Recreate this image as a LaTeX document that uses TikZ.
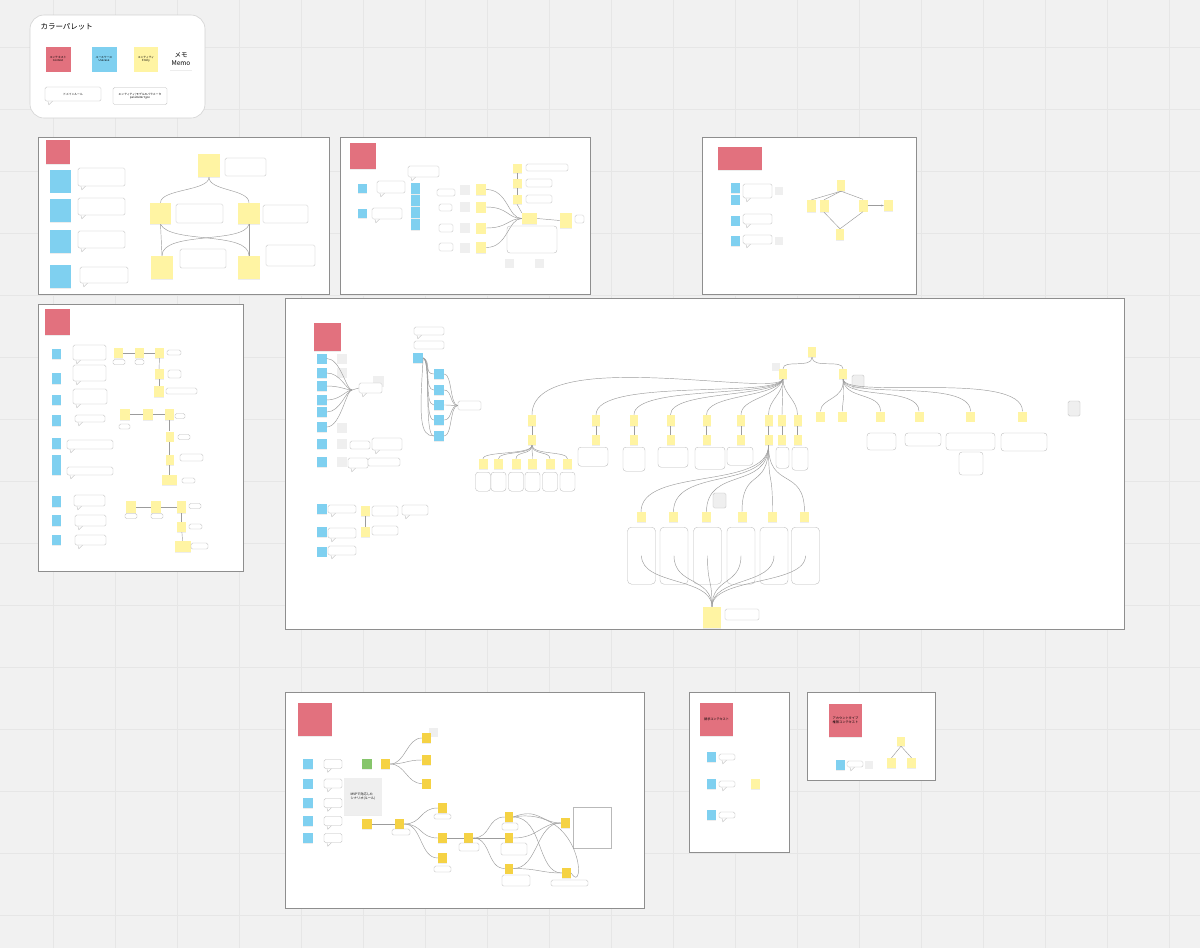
\documentclass[tikz,border=0pt]{standalone}
\usepackage{fontspec}
\setmainfont{Noto Sans CJK JP}
\usetikzlibrary{shadows,arrows.meta}
\definecolor{bgcol}{HTML}{F1F1F1}
\definecolor{gridcol}{HTML}{E6E6E6}
\definecolor{framecol}{HTML}{8E8E8E}
\definecolor{ctxpink}{HTML}{E2717E}
\definecolor{ucblue}{HTML}{7FD0F0}
\definecolor{entyel}{HTML}{FFF4A3}
\definecolor{aggyel}{HTML}{F5D244}
\definecolor{evgreen}{HTML}{86C56B}
\definecolor{memogrey}{HTML}{EFEFEF}
\definecolor{wirecol}{HTML}{9C9C9C}
\tikzset{
  sticky/.style n args={2}{inner sep=0pt,minimum width=#1,minimum height=#2,
    drop shadow={shadow xshift=0.2pt,shadow yshift=-0.7pt,opacity=0.14}},
  ctx/.style n args={2}{sticky={#1}{#2},fill=ctxpink},
  uc/.style n args={2}{sticky={#1}{#2},fill=ucblue},
  ent/.style n args={2}{sticky={#1}{#2},fill=entyel},
  agg/.style n args={2}{sticky={#1}{#2},fill=aggyel},
  faint/.style={fill=memogrey,inner sep=0pt,minimum size=#1},
  box/.style n args={2}{draw=gray!55,line width=0.35pt,rounded corners=1.5pt,fill=white,
    inner sep=0pt,minimum width=#1,minimum height=#2},
  bubble/.style n args={2}{box={#1}{#2},
    append after command={\pgfextra{
      \path[fill=white,draw=gray!55,line width=0.35pt,rounded corners=0pt]
        ([xshift=3pt,yshift=0.3pt]\tikzlastnode.south west)
        -- ([xshift=4pt,yshift=-3.5pt]\tikzlastnode.south west)
        -- ([xshift=8pt,yshift=0.3pt]\tikzlastnode.south west);}}},
  wire/.style={draw=wirecol,line width=0.45pt},
  board/.style={draw=framecol,line width=1pt,fill=white},
  wee/.style={font=\fontsize{2.8}{3.3}\selectfont,align=center},
}
\begin{document}
\begin{tikzpicture}[x=1pt,y=-1pt]
  \useasboundingbox (0,0) rectangle (1200,948);
  \fill[bgcol] (0,0) rectangle (1200,948); %sfondo
  \foreach \g in {0,...,19} \draw[gridcol,line width=0.6pt] ({\g*62+53},0) -- ({\g*62+53},948);
  \foreach \g in {0,...,15} \draw[gridcol,line width=0.6pt] (0,{\g*62+47}) -- (1200,{\g*62+47});

  % palette
  \draw[board,draw=gray!35,line width=0.6pt,rounded corners=14pt] (30,15) rectangle (205,118);
  \node[anchor=west,font=\fontsize{7.5}{9}\selectfont] (paltitle) at (37,27) {カラーパレット};
  \node[ctx={25}{25},wee] (palctx) at (58,59) {コンテキスト\\Context};
  \node[uc={25}{25},wee] (paluc) at (104,59) {ユースケース\\Usecase};
  \node[ent={24}{25},wee] (palent) at (146,59) {エンティティ\\Entity};
  \node[sticky={22}{22},fill=white,font=\fontsize{6.5}{7.5}\selectfont,align=center] (palmemo) at (181,59) {メモ\\Memo};
  \node[bubble={56}{14},wee] (palrule) at (73,94) {ドメインルール};
  \node[box={54}{17},wee] (palparam) at (140,96) {エンティティ/モデルのパラメータ\\parameter type};

  % board A
  \draw[board] (38,137) rectangle (329,294);
  \node[ctx={24}{24}] (actx) at (58,152) {};
  \foreach \i/\y in {1/181,2/210.5,3/241.5,4/276.5} \node[uc={21}{23}] (auc\i) at (60.5,\y) {};
  \node[bubble={47}{18}] (anote1) at (101.5,177) {};
  \node[bubble={47}{17}] (anote2) at (101.5,206.5) {};
  \node[bubble={47}{17}] (anote3) at (101.5,239.5) {};
  \node[bubble={48}{16}] (anote4) at (104,275) {};
  \node[ent={22}{23}] (atop) at (209,165.5) {};
  \node[box={41}{18}] (atopn) at (245.5,167) {};
  \node[ent={21}{21}] (amidl) at (160.5,213.5) {};
  \node[ent={22}{21}] (amidr) at (249,213.5) {};
  \node[box={47}{19}] (amidln) at (199.5,213.5) {};
  \node[box={45}{18}] (amidrn) at (285.5,214) {};
  \node[ent={22}{23}] (abotl) at (162,267.5) {};
  \node[ent={22}{23}] (abotr) at (249,267.5) {};
  \node[box={46}{19}] (abotln) at (203,258.5) {};
  \node[box={49}{21}] (abotrn) at (290.5,255.5) {};
  \draw[wire] (atop.south) .. controls +(0,14) and +(0,-14) .. (amidl.north);
  \draw[wire] (atop.south) .. controls +(0,14) and +(0,-14) .. (amidr.north);
  \draw[wire] (amidl.south) -- (abotl.north);
  \draw[wire] (amidr.south) -- (abotr.north);
  \draw[wire] (amidl.south) .. controls +(10,20) and +(0,-25) .. (abotr.north);
  \draw[wire] (amidr.south) .. controls +(-5,20) and +(0,-25) .. (abotl.north);

  % board B
  \draw[board] (340,137) rectangle (590,294);
  \node[ctx={26}{26}] (bctx) at (362.5,156) {};
  \node[uc={9}{9}] (buc1) at (362.5,188.5) {};
  \node[uc={9}{9}] (buc2) at (362.5,213.5) {};
  \node[bubble={28}{12}] (bnote1) at (391,187) {};
  \node[bubble={30}{11}] (bnote2) at (387,213.5) {};
  \node[bubble={31}{11}] (bnote3) at (423.5,171.5) {};
  \foreach \i/\y in {1/188.5,2/200.5,3/212.5,4/224.5} \node[uc={9}{11}] (bcol\i) at (415,\y) {};
  \node[box={18}{7}] (bbox1) at (446,192.5) {};
  \node[box={13}{7}] (bbox2) at (445.5,207.5) {};
  \node[box={14}{8}] (bbox3) at (446,228) {};
  \node[box={14}{8}] (bbox4) at (446,247) {};
  \foreach \i/\y in {1/189.5,2/207,3/228,4/247.5} {
    \node[faint=10] (bfa\i) at (465,\y) {};
    \node[ent={10}{11}] (bye\i) at (481,\y) {};
  }
  \node[ent={15}{11}] (bcen) at (529.5,218.5) {};
  \node[ent={12}{15}] (bright) at (566,220.5) {};
  \node[box={9}{8}] (brightn) at (579.5,219) {};
  \foreach \i/\y in {1/168.5,2/183.5,3/199.5} \node[ent={9}{9}] (bup\i) at (517,\y) {};
  \node[box={42}{7}] (bupn1) at (547,167.5) {};
  \node[box={26}{8}] (bupn2) at (539,183) {};
  \node[box={26}{8}] (bupn3) at (539,199) {};
  \node[box={50}{27},rounded corners=3pt] (bbig) at (532,239.5) {};
  \node[faint=9] (bfb1) at (509,263.5) {};
  \node[faint=9] (bfb2) at (539.5,263.5) {};
  \foreach \i in {1,...,4} \draw[wire] (bye\i.east) .. controls +(22,0) and +(-14,0) .. (bcen.west);
  \draw[wire] (bup1.south) -- (bup2.north);
  \draw[wire] (bup2.south) -- (bup3.north);
  \draw[wire] (bup3.south) -- (bcen.north west);
  \draw[wire] (bcen.east) -- (bright.west);

  % board C
  \draw[board] (702,137) rectangle (916,294);
  \node[ctx={44}{23}] (cctx) at (740,158.5) {};
  \foreach \i/\y in {1/188,2/199.5,3/220.5,4/241} \node[uc={9}{10}] (cuc\i) at (735.5,\y) {};
  \node[bubble={29}{14}] (cnote1) at (757.5,191) {};
  \node[bubble={29}{10}] (cnote2) at (757.5,219) {};
  \node[bubble={29}{9}] (cnote3) at (757.5,239.5) {};
  \node[faint=8] (cfa1) at (778.5,191) {};
  \node[faint=8] (cfa2) at (778.5,241) {};
  \node[ent={8}{11}] (ctop) at (841,185.5) {};
  \node[ent={9}{12}] (cl1) at (811.5,206) {};
  \node[ent={9}{12}] (cl2) at (824,206) {};
  \node[ent={9}{12}] (cr) at (863,205.5) {};
  \node[ent={9}{11}] (cfr) at (888.5,205.5) {};
  \node[ent={8}{11}] (cbot) at (840,234.5) {};
  \draw[wire] (ctop.south) -- (cl1.north);
  \draw[wire] (ctop.south) -- (cl2.north);
  \draw[wire] (ctop.south) -- (cr.north);
  \draw[wire,-{Stealth[length=2.5pt]}] (cr.east) -- (cfr.west);
  \draw[wire] (cl2.south) -- (cbot.north);
  \draw[wire] (cr.south) -- (cbot.north);

  % board D
  \draw[board] (38,304) rectangle (243,571);
  \node[ctx={25}{26}] (dctx) at (57.5,322) {};
  \foreach \i/\y/\h in {1/354/10,2/378.5/11,3/400/10,4/420.5/11,5/443.5/11,6/465/20,7/501.5/11,8/520.5/11,9/540/10}
    \node[uc={9}{\h}] (duc\i) at (56.5,\y) {};
  \foreach \i/\x/\y/\w/\h in {1/89.5/352.5/33/15,2/89.5/373/33/16,3/90/396.5/34/15,4/90/418.5/30/7,5/90/444.5/46/9,6/90/471/46/8,7/89.5/500.5/31/11,8/90.5/520.5/31/11,9/90.5/540/31/10}
    \node[bubble={\w}{\h}] (dnote\i) at (\x,\y) {};
  % prima catena
  \node[ent={9}{10}] (d1a) at (118.5,353) {};
  \node[ent={9}{10}] (d1b) at (139.5,353) {};
  \node[ent={9}{10}] (d1c) at (159.5,353) {};
  \node[ent={9}{10}] (d1d) at (159,374) {};
  \node[ent={10}{11}] (d1e) at (159,391.5) {};
  \node[box={12}{5}] (d1an) at (119,362) {};
  \node[box={9}{5}] (d1bn) at (139.5,362) {};
  \node[box={14}{5}] (d1cn) at (174,352.5) {};
  \node[box={13}{8}] (d1dn) at (174.5,374) {};
  \node[box={31}{6}] (d1en) at (181.5,391) {};
  \draw[wire] (d1a) -- (d1b); \draw[wire] (d1b) -- (d1c);
  \draw[wire] (d1c) -- (d1d); \draw[wire] (d1d) -- (d1e);
  % seconda catena
  \node[ent={10}{11}] (d2a) at (125,414.5) {};
  \node[ent={10}{11}] (d2b) at (148,414.5) {};
  \node[ent={9}{11}] (d2c) at (169.5,414.5) {};
  \node[ent={8}{10}] (d2d) at (169.5,436.5) {};
  \node[ent={8}{10}] (d2e) at (169.5,460) {};
  \node[ent={15}{10}] (d2f) at (169.5,480) {};
  \node[box={11}{5}] (d2an) at (124.5,426.5) {};
  \node[box={10}{5}] (d2cn) at (180,416) {};
  \node[box={12}{5}] (d2dn) at (184,437) {};
  \node[box={23}{7}] (d2en) at (191.5,457.5) {};
  \node[box={13}{5}] (d2fn) at (188.5,480.5) {};
  \draw[wire] (d2a) -- (d2b); \draw[wire] (d2b) -- (d2c);
  \draw[wire] (d2c) -- (d2d); \draw[wire] (d2d) -- (d2e); \draw[wire] (d2e) -- (d2f);
  % terza catena
  \node[ent={10}{12}] (d3a) at (131,507) {};
  \node[ent={10}{12}] (d3b) at (156,507) {};
  \node[ent={9}{12}] (d3c) at (181.5,507) {};
  \node[ent={9}{10}] (d3d) at (181.5,527) {};
  \node[ent={16}{11}] (d3e) at (183,546.5) {};
  \node[box={12}{5}] (d3an) at (131,516) {};
  \node[box={12}{5}] (d3bn) at (157,516) {};
  \node[box={12}{5}] (d3cn) at (195,506) {};
  \node[box={13}{5}] (d3dn) at (195.5,526.5) {};
  \node[box={17}{6}] (d3en) at (199.5,546) {};
  \draw[wire] (d3a) -- (d3b); \draw[wire] (d3b) -- (d3c);
  \draw[wire] (d3c) -- (d3d); \draw[wire] (d3d) -- (d3e);

  % board E
  \draw[board] (285,298) rectangle (1124,629);
  \node[ctx={27}{28}] (ectx) at (327.5,337) {};
  \foreach \i/\y in {1/359,2/373,6/428,7/444,8/462} \node[faint=10] (efa\i) at (342,\y) {};
  \foreach \i/\y in {1/358.5,2/373,3/386,4/400,5/412,6/427,7/444,8/462}
    \node[uc={10}{10}] (euc\i) at (321.5,\y) {};
  \node[faint=11] (efb) at (378,381) {};
  \node[bubble={23}{10}] (erule1) at (370.5,388) {};
  \coordinate (ejoin) at (352,390);
  \foreach \i in {1,...,6} \draw[wire] (euc\i.east) .. controls +(14,0) and +(-6,0) .. (ejoin);
  \draw[wire] (ejoin) -- (erule1.west);
  \node[box={20}{8}] (eb7) at (360,445) {};
  \node[bubble={30}{12}] (en7) at (387,444) {};
  \node[bubble={20}{10}] (eb8) at (358,463) {};
  \node[box={32}{8}] (en8) at (384,462) {};
  % colonna blu
  \node[bubble={30}{8}] (eq1) at (429,331) {};
  \node[box={30}{8}] (eq2) at (429,345) {};
  \node[uc={10}{10}] (eusr) at (418,358) {};
  \foreach \i/\y in {1/374,2/390,3/405,4/420,5/436} \node[uc={10}{10}] (ecol\i) at (439,\y) {};
  \foreach \i in {1,...,5} \draw[wire] (eusr.east) .. controls +(8,3) and +(-10,0) .. (ecol\i.west);
  \draw[wire] (eusr.east) .. controls +(-4,60) and +(-14,0) .. (ecol5.west);
  \node[box={23}{9}] (erule2) at (469.5,405.5) {};
  \foreach \i in {1,...,5} \draw[wire] (ecol\i.east) .. controls +(8,0) and +(-8,0) .. (erule2.west);
  % righe in basso
  \foreach \i/\y in {1/509,2/532,3/551.5} \node[uc={10}{10}] (eub\i) at (321.5,\y) {};
  \node[bubble={28}{8}] (ebn1) at (342,509) {};
  \node[bubble={28}{10}] (ebn2) at (342,533) {};
  \node[bubble={28}{9}] (ebn3) at (342,550.5) {};
  \node[ent={9}{10}] (eey1) at (365,511) {};
  \node[ent={9}{10}] (eey2) at (365,532) {};
  \draw[wire] (eey1.south) -- (eey2.north);
  \node[box={26}{10}] (eeb1) at (385,511) {};
  \node[box={26}{9}] (eeb2) at (385,530.5) {};
  \node[bubble={26}{10}] (eeb3) at (415,510) {};
  % albero
  \node[ent={8}{10}] (eroot) at (812,352) {};
  \node[faint=8] (efc) at (776,367) {};
  \node[ent={8}{10}] (el) at (783,374) {};
  \node[ent={8}{10}] (er) at (843,374) {};
  \node[box={12}{13},fill=memogrey] (erem) at (858,381.5) {};
  \draw[wire] (eroot.south) .. controls +(0,12) and +(0,-10) .. (el.north);
  \draw[wire] (eroot.south) .. controls +(0,12) and +(0,-10) .. (er.north);
  \foreach \i/\x in {1/820.5,2/842.5,3/880.5,4/919,5/970.5,6/1022.5} \node[ent={9}{10}] (e2r\i) at (\x,416.5) {};
  \foreach \i/\x/\t in {1/820.5/398,2/842.5/398,3/880.5/392,4/919/386,5/970.5/378,6/1022.5/370}
    \draw[wire] (er.south) .. controls (845,400) and (\x,\t) .. (e2r\i.north);
  \node[box={29}{17},rounded corners=3pt] (ebr3) at (881.5,441.5) {};
  \node[box={36}{13},rounded corners=3pt] (ebr4) at (923,439.5) {};
  \node[box={49}{17},rounded corners=3pt] (ebr5) at (970.5,441.5) {};
  \node[box={46}{18},rounded corners=3pt] (ebr6) at (1024,442) {};
  \node[box={24}{23},rounded corners=3pt] (ebr7) at (971,463.5) {};
  \node[box={12}{15},fill=memogrey] (erem2) at (1074,408.5) {};
  \foreach \i/\x in {1/532,2/596,3/634,4/670.5,5/706.5,6/741,7/768.5,8/782,9/797.5} {
    \node[ent={8}{11}] (e2l\i) at (\x,420.5) {};
    \node[ent={8}{10}] (e3l\i) at (\x,440) {};
    \draw[wire] (e2l\i.south) -- (e3l\i.north);
  }
  \foreach \i/\x/\t in {1/532/345,2/596/378,3/634/385,4/670.5/390,5/706.5/394,6/741/398}
    \draw[wire] (el.south) .. controls (776,398) and (\x,\t) .. (e2l\i.north);
  \draw[wire] (el.south) .. controls +(0,15) and +(0,-15) .. (e2l7.north);
  \draw[wire] (el.south) -- (e2l8.north);
  \draw[wire] (el.south) .. controls +(0,15) and +(0,-15) .. (e2l9.north);
  \foreach \i/\x/\w/\h in {2/593/30/19,3/634/22/24,4/673/30/20,5/710/30/22,6/740/26/18,8/782.5/13/21,9/800/16/23}
    \node[box={\w}{\h},anchor=north,rounded corners=3pt] (e4b\i) at (\x,447) {};
  \foreach \i/\x in {1/483,2/498.5,3/516,4/532.5,5/550,6/567.5} {
    \node[ent={9}{10}] (e4s\i) at (\x,464) {};
    \node[box={15}{19},anchor=north,rounded corners=3pt] (e4t\i) at (\x,472) {};
    \draw[wire] (e3l1.south) .. controls +(0,10) and +(0,-8) .. (e4s\i.north);
  }
  \node[box={13}{15},fill=memogrey] (erem3) at (719.5,500.5) {};
  \foreach \i/\x/\bx in {1/641/641.5,2/673.5/674,3/706.5/707.5,4/742/741,5/772.5/774,6/804.5/805.5} {
    \node[ent={9}{10}] (e5s\i) at (\x,517) {};
    \node[box={28}{57},anchor=north,rounded corners=4pt] (e5b\i) at (\bx,527) {};
    \draw[wire] (e3l7.south) .. controls +(0,45) and +(0,-45) .. (e5s\i.north);
  }
  \node[ent={18}{21}] (ebot) at (712,617.5) {};
  \node[box={34}{11}] (ebotn) at (742,614.5) {};
  \foreach \i in {1,...,6} \draw[wire] (e5b\i.center) .. controls +(0,30) and +(0,-30) .. (ebot.north);

  % board F
  \draw[board] (285,692) rectangle (644,908);
  \node[ctx={34}{33}] (fctx) at (315,719.5) {};
  \foreach \i/\y in {1/764,2/783.5,3/803,4/821,5/838} {
    \node[uc={10}{10}] (fuc\i) at (308,\y) {};
    \node[bubble={18}{9}] (fn\i) at (333,\y) {};
  }
  \node[sticky={10}{10},fill=evgreen] (fgrn) at (367,764) {};
  \node[agg={9}{10}] (fa1) at (385.5,764) {};
  \node[faint=9] (ffa) at (433.5,732.5) {};
  \foreach \i/\y in {1/738,2/760,3/783.5} \node[agg={9}{10}] (ft\i) at (426.5,\y) {};
  \foreach \i in {1,2,3} \draw[wire] (fa1.east) .. controls +(15,0) and +(-15,0) .. (ft\i.west);
  \node[sticky={38}{37},fill=memogrey,font=\fontsize{3.2}{4.4}\selectfont,align=left] (fmvp) at (363,796.5) {MVPで対応した\\シナリオ(ルール)};
  \node[agg={10}{10}] (fa2) at (367,824) {};
  \node[agg={9}{10}] (fb) at (399.5,824) {};
  \node[box={18}{6}] (fbn) at (401,832) {};
  \draw[wire] (fa2.east) -- (fb.west);
  \foreach \i/\y in {1/808,2/838,3/858} \node[agg={9}{10}] (fm\i) at (442.5,\y) {};
  \node[box={17}{5}] (fmn1) at (442.5,816.5) {};
  \node[box={17}{6}] (fmn3) at (442.5,869) {};
  \foreach \i in {1,2,3} \draw[wire] (fb.east) .. controls +(18,0) and +(-18,0) .. (fm\i.west);
  \node[agg={9}{10}] (fc) at (468.5,838) {};
  \node[box={20}{8}] (fcn) at (469,847) {};
  \draw[wire] (fm2.east) -- (fc.west);
  \foreach \i/\y in {1/817,2/838,3/868.5} \node[agg={8}{10}] (fr\i) at (509,\y) {};
  \node[box={16}{7}] (frn1) at (510,826.5) {};
  \node[box={26}{12}] (frn2) at (514,849) {};
  \node[box={28}{11}] (frn3) at (516,880.5) {};
  \foreach \i in {1,2,3} \draw[wire] (fc.east) .. controls +(18,0) and +(-18,0) .. (fr\i.west);
  \node[agg={9}{10}] (fe1) at (565.5,823) {};
  \node[agg={9}{10}] (fe2) at (566.5,873) {};
  \node[box={37}{6}] (fen2) at (569.5,883) {};
  \node[box={38}{41},rounded corners=0pt] (fbig) at (592,827.5) {};
  \draw[wire] (fr1.east) .. controls +(25,-10) and +(-20,0) .. (fe1.west);
  \draw[wire] (fr2.east) .. controls +(25,0) and +(-20,0) .. (fe1.west);
  \draw[wire] (fr3.east) .. controls +(25,0) and +(-25,0) .. (fe1.west);
  \draw[wire] (fr1.east) .. controls +(30,0) and +(-25,0) .. (fe2.west);
  \draw[wire] (fr3.east) .. controls +(25,0) and +(-20,0) .. (fe2.west);
  \draw[wire] (fr1.east) .. controls +(70,-12) and +(15,25) .. (fe2.east);

  % board G
  \draw[board] (689,692) rectangle (789,852);
  \node[ctx={33}{33},font=\fontsize{3.1}{4}\selectfont] (gctx) at (716.5,719.5) {請求コンテキスト};
  \foreach \i/\y in {1/757,2/784,3/815} {
    \node[uc={9}{10}] (guc\i) at (711.5,\y) {};
    \node[bubble={16}{6}] (gn\i) at (727,\y) {};
  }
  \node[ent={9}{10}] (gent) at (755.5,784) {};

  % board H
  \draw[board] (807,692) rectangle (935,780);
  \node[ctx={33}{33},font=\fontsize{3.2}{4.4}\selectfont,align=left] (hctx) at (845.5,720.5) {アカウントタイプ\\権限コンテキスト};
  \node[uc={9}{10}] (huc) at (840.5,765) {};
  \node[bubble={16}{6}] (hn) at (855,764) {};
  \node[faint=8] (hfa) at (868.5,765) {};
  \node[ent={8}{9}] (htop) at (901,741.5) {};
  \node[ent={9}{10}] (hl) at (891.5,763) {};
  \node[ent={9}{10}] (hr) at (911.5,763) {};
  \draw[wire] (htop.south) -- (hl.north);
  \draw[wire] (htop.south) -- (hr.north);
\end{tikzpicture}
\end{document}
